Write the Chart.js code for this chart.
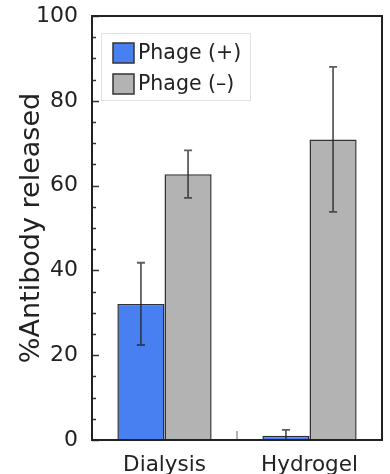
<!DOCTYPE html>
<html>
<head>
<meta charset="utf-8">
<script src="https://cdn.jsdelivr.net/npm/chart.js@4.4.0/dist/chart.umd.min.js"></script>
<style>
  html, body { margin: 0; padding: 0; background: #fff; }
  #wrap { width: 390px; height: 474px; }
</style>
</head>
<body>
<div id="wrap"><canvas id="chartBar" width="390" height="474"></canvas></div>
<script>
// Values
const categories = ["Dialysis", "Hydrogel"];
const seriesNames = ["Phage (+)", "Phage (\u2013)"];
const phagePlus = [32.1, 1.0];
const phagePlusErr = [9.7, 1.4];
const phageMinus = [62.7, 70.9];
const phageMinusErr = [5.6, 17.1];
const yMajorStep = 20;
const yMinorStep = 5;

const FONT = "'DejaVu Sans', Verdana, sans-serif";
const errors = [phagePlusErr, phageMinusErr];

// error bars, inward ticks, frame and the legend box inside the plot
const decorations = {
  id: "decorations",
  afterDatasetsDraw(chart) {
    const ctx = chart.ctx;
    const area = chart.chartArea;
    const yScale = chart.scales.y;
    ctx.save();
    ctx.beginPath();
    ctx.rect(area.left, area.top, area.right - area.left, area.bottom - area.top);
    ctx.clip();
    ctx.strokeStyle = "rgba(40,40,40,0.75)";
    ctx.lineWidth = 1.8;
    chart.data.datasets.forEach((ds, i) => {
      const meta = chart.getDatasetMeta(i);
      meta.data.forEach((bar, j) => {
        const v = ds.data[j];
        const e = errors[i][j];
        const yHi = yScale.getPixelForValue(v + e);
        const yLo = yScale.getPixelForValue(v - e);
        ctx.beginPath();
        ctx.moveTo(bar.x, yHi);
        ctx.lineTo(bar.x, yLo);
        ctx.moveTo(bar.x - 4, yHi);
        ctx.lineTo(bar.x + 4, yHi);
        ctx.moveTo(bar.x - 4, yLo);
        ctx.lineTo(bar.x + 4, yLo);
        ctx.stroke();
      });
    });
    ctx.restore();
  },
  afterDraw(chart) {
    const ctx = chart.ctx;
    const area = chart.chartArea;
    const yScale = chart.scales.y;
    const xScale = chart.scales.x;
    ctx.save();
    // y ticks pointing inward
    ctx.strokeStyle = "#333";
    ctx.lineWidth = 1.5;
    yScale.ticks.forEach((t) => {
      const y = Math.round(yScale.getPixelForValue(t.value)) + 0.5;
      const len = t.value % yMajorStep === 0 ? 7 : 4;
      ctx.beginPath();
      ctx.moveTo(area.left, y);
      ctx.lineTo(area.left + len, y);
      ctx.stroke();
    });
    // x tick between the two groups
    ctx.strokeStyle = "#999";
    for (let i = 1; i < categories.length; i++) {
      const x = (xScale.getPixelForValue(i - 1) + xScale.getPixelForValue(i)) / 2;
      ctx.beginPath();
      ctx.moveTo(x, area.bottom);
      ctx.lineTo(x, area.bottom - 9);
      ctx.stroke();
    }
    // frame
    ctx.strokeStyle = "#222";
    ctx.lineWidth = 2;
    ctx.strokeRect(area.left, area.top, area.right - area.left, area.bottom - area.top);

    // legend
    const lx = area.left + 9, ly = area.top + 17;
    ctx.fillStyle = "#fff";
    ctx.fillRect(lx, ly, 149, 67);
    ctx.strokeStyle = "#e2e2e2";
    ctx.lineWidth = 1;
    ctx.strokeRect(lx + 0.5, ly + 0.5, 149, 67);
    ctx.font = "20.5px " + FONT;
    ctx.textBaseline = "middle";
    chart.data.datasets.forEach((ds, i) => {
      const by = ly + 10 + i * 31;
      ctx.fillStyle = ds.backgroundColor;
      ctx.fillRect(lx + 12, by, 21, 20);
      ctx.strokeStyle = "#333";
      ctx.lineWidth = 1.5;
      ctx.strokeRect(lx + 12, by, 21, 20);
      ctx.fillStyle = "#222";
      ctx.fillText(ds.label, lx + 37, by + 11);
    });
    ctx.restore();
  }
};

const dataBar = {
  labels: categories,
  datasets: [
    {
      label: seriesNames[0],
      data: phagePlus,
      backgroundColor: "#4880f2",
      borderColor: "#2a2f3a",
      borderWidth: 1.5,
    },
    {
      label: seriesNames[1],
      data: phageMinus,
      backgroundColor: "#b3b3b3",
      borderColor: "#333333",
      borderWidth: 1.5,
    },
  ],
};

const configBar = {
  type: "bar",
  data: dataBar,
  options: {
    responsive: false,
    animation: false,
    barPercentage: 1.0,
    categoryPercentage: 0.65,
    layout: { padding: { top: 16, right: 8, left: 16, bottom: 0 } },
    plugins: {
      legend: { display: false },
      tooltip: { enabled: false },
    },
    scales: {
      x: {
        grid: { display: false },
        border: { display: false },
        ticks: {
          color: "#222",
          font: { family: FONT, size: 21.5 },
          padding: 5,
          maxRotation: 0,
        },
        afterFit: (scale) => { scale.height = 34; },
      },
      y: {
        min: 0,
        max: 100,
        grid: { display: false },
        border: { display: false },
        ticks: {
          stepSize: yMinorStep,
          autoSkip: false,
          color: "#222",
          font: { family: FONT, size: 22 },
          padding: 6,
          callback: (v) => (v % yMajorStep === 0 ? v : ""),
        },
        title: {
          display: true,
          text: "%Antibody released",
          color: "#222",
          font: { family: FONT, size: 27 },
          padding: { top: 0, bottom: 0 },
        },
        afterFit: (scale) => {
          scale.width = 76;
          scale.paddingTop = 0;
          scale.paddingBottom = 0;
        },
      },
    },
  },
  plugins: [decorations],
};

const chartBar = new Chart(document.getElementById("chartBar"), configBar);
</script>
</body>
</html>
